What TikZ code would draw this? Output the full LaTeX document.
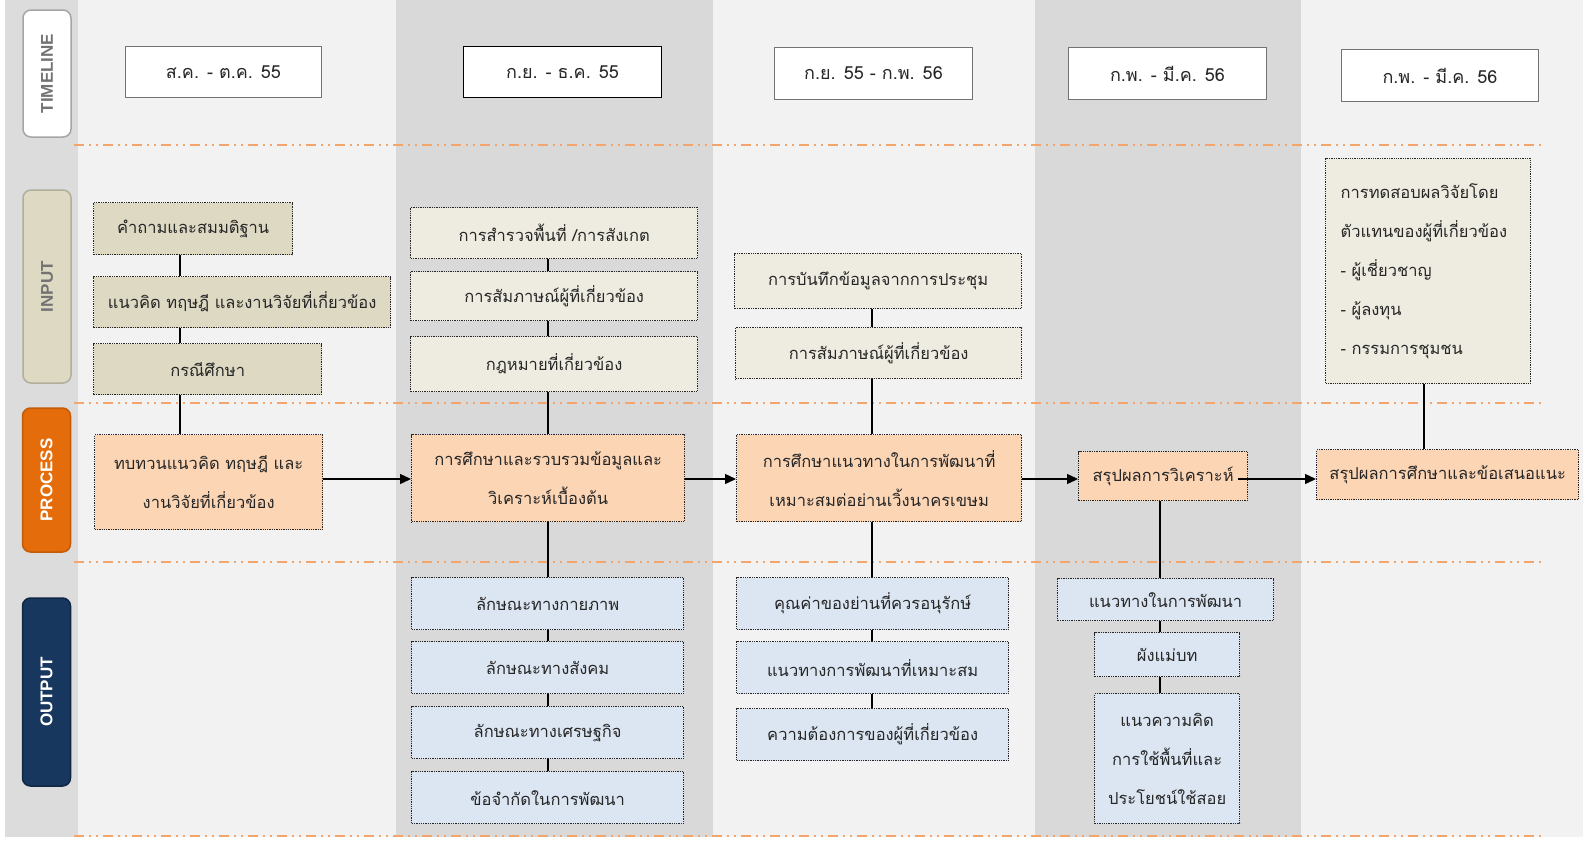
\documentclass[tikz,border=0pt]{standalone}
\usepackage{fontspec}
\setmainfont{Liberation Sans}
\newfontfamily\thai[Script=Thai]{Loma}
\usetikzlibrary{arrows.meta}

\definecolor{paneLight}{HTML}{F2F2F2}
\definecolor{paneDark}{HTML}{D9D9D9}
\definecolor{stripGray}{HTML}{DCDCDC}
\definecolor{inputDark}{HTML}{DDD9C3}
\definecolor{inputLight}{HTML}{EEECE1}
\definecolor{procFill}{HTML}{FCD5B5}
\definecolor{outFill}{HTML}{DCE6F2}
\definecolor{sepLine}{HTML}{F3A66C}
\definecolor{procLane}{HTML}{E46C0A}
\definecolor{outLane}{HTML}{17375E}
\definecolor{inkText}{HTML}{262626}

\begin{document}
\begin{tikzpicture}[x=1pt,y=-1pt,
  lane/.style={rounded corners=8pt, line width=1.5pt, rotate=90,
    minimum height=48, inner sep=0,
    font=\bfseries\fontsize{17}{20}\selectfont},
  timebox/.style={anchor=north west, draw=black!55, fill=white, line width=1pt,
    inner sep=0, text=inkText, font=\thai\fontsize{18}{22}\selectfont},
  box/.style={anchor=north west, draw=black!85, line width=1.3pt, densely dotted,
    inner sep=0, align=center, text=inkText,
    font=\thai\fontsize{16.5}{39}\selectfont},
  inA/.style={box, fill=inputDark},
  inB/.style={box, fill=inputLight},
  proc/.style={box, fill=procFill},
  outp/.style={box, fill=outFill},
  link/.style={line width=1.4pt, draw=black},
  flow/.style={link, -{Triangle[length=11pt,width=10pt]}},
  sep/.style={draw=sepLine, line width=1.6pt,
    dash pattern=on 10pt off 5pt on 2pt off 5pt on 2pt off 5pt}
]
\useasboundingbox (0,0) rectangle (1583,841);
\fill[white] (0,0) rectangle (1583,841);

% column bands
\fill[paneLight] (5,0) rectangle (1583,837);
\fill[stripGray] (5,0) rectangle (78,837);
\fill[paneDark] (396,0) rectangle (713,837);
\fill[paneDark] (1035,0) rectangle (1301,837);

% row separators
\draw[sep] (74,145) -- (1542,145);
\draw[sep] (74,403) -- (1545,403);
\draw[sep] (74,562) -- (1545,562);
\draw[sep] (74,836) -- (1545,836);

% lane labels
\node[lane, draw=black!35, fill=white, text=black!55, minimum width=127] (lTime) at (47,73.5) {TIMELINE};
\node[lane, draw=inputDark!80!black, fill=inputDark, text=black!55, minimum width=193] (lIn) at (47,286.5) {INPUT};
\node[lane, draw=procLane!85!black, fill=procLane, text=white, minimum width=144] (lProc) at (46.5,480) {PROCESS};
\node[lane, draw=outLane!70!black, fill=outLane, text=white, minimum width=188] (lOut) at (46.5,692) {OUTPUT};

% timeline
\node[timebox, minimum width=196, minimum height=51] (t1) at (125,46) {ส.ค. - ต.ค. 55};
\node[timebox, draw=black, minimum width=198, minimum height=51] (t2) at (463,46) {ก.ย. - ธ.ค. 55};
\node[timebox, minimum width=198, minimum height=52] (t3) at (774,47) {ก.ย. 55 - ก.พ. 56};
\node[timebox, minimum width=198, minimum height=52] (t4) at (1068,47) {ก.พ. - มี.ค. 56};
\node[timebox, minimum width=197, minimum height=52] (t5) at (1341,49) {ก.พ. - มี.ค. 56};

% inputs
\node[inA, minimum width=199, minimum height=52] (i11) at (93,202) {คำถามและสมมติฐาน};
\node[inA, minimum width=297, minimum height=51] (i12) at (93,276) {แนวคิด ทฤษฎี และงานวิจัยที่เกี่ยวข้อง};
\node[inA, minimum width=228, minimum height=51] (i13) at (93,343) {กรณีศึกษา};
\node[inB, minimum width=287, minimum height=51] (i21) at (410,207) {การสำรวจพื้นที่ /การสังเกต};
\node[inB, minimum width=287, minimum height=49] (i22) at (410,271) {การสัมภาษณ์ผู้ที่เกี่ยวข้อง};
\node[inB, minimum width=287, minimum height=55] (i23) at (410,336) {กฎหมายที่เกี่ยวข้อง};
\node[inB, minimum width=287, minimum height=55] (i31) at (734,253) {การบันทึกข้อมูลจากการประชุม};
\node[inB, minimum width=286, minimum height=51] (i32) at (735,327) {การสัมภาษณ์ผู้ที่เกี่ยวข้อง};
\node[inB, align=left, inner xsep=15, text width=175, minimum height=225] (i51) at (1325,158)
  {การทดสอบผลวิจัยโดย\\ตัวแทนของผู้ที่เกี่ยวข้อง\\- ผู้เชี่ยวชาญ\\- ผู้ลงทุน\\- กรรมการชุมชน};

% process
\node[proc, minimum width=228, minimum height=95] (p1) at (94,434) {ทบทวนแนวคิด ทฤษฎี และ\\งานวิจัยที่เกี่ยวข้อง};
\node[proc, minimum width=273, minimum height=87] (p2) at (411,434) {การศึกษาและรวบรวมข้อมูลและ\\วิเคราะห์เบื้องต้น};
\node[proc, minimum width=285, minimum height=87] (p3) at (736,434) {การศึกษาแนวทางในการพัฒนาที่\\เหมาะสมต่อย่านเวิ้งนาครเขษม};
\node[proc, minimum width=169, minimum height=49] (p4) at (1078,451) {สรุปผลการวิเคราะห์};
\node[proc, minimum width=262, minimum height=50] (p5) at (1316,449) {สรุปผลการศึกษาและข้อเสนอแนะ};

% outputs
\node[outp, minimum width=272, minimum height=52] (o21) at (411,577) {ลักษณะทางกายภาพ};
\node[outp, minimum width=272, minimum height=52] (o22) at (411,641) {ลักษณะทางสังคม};
\node[outp, minimum width=272, minimum height=52] (o23) at (411,706) {ลักษณะทางเศรษฐกิจ};
\node[outp, minimum width=272, minimum height=52] (o24) at (411,771) {ข้อจำกัดในการพัฒนา};
\node[outp, minimum width=272, minimum height=52] (o31) at (736,577) {คุณค่าของย่านที่ควรอนุรักษ์};
\node[outp, minimum width=272, minimum height=52] (o32) at (736,641) {แนวทางการพัฒนาที่เหมาะสม};
\node[outp, minimum width=272, minimum height=52] (o33) at (736,708) {ความต้องการของผู้ที่เกี่ยวข้อง};
\node[outp, minimum width=216, minimum height=42] (o41) at (1057,578) {แนวทางในการพัฒนา};
\node[outp, minimum width=145, minimum height=44] (o42) at (1094,632) {ผังแม่บท};
\node[outp, minimum width=145, minimum height=130] (o43) at (1094,693) {แนวความคิด\\การใช้พื้นที่และ\\ประโยชน์ใช้สอย};

% trunk positions of the vertical links
\coordinate (c1) at (180,0);
\coordinate (c2) at (548,0);
\coordinate (c3) at (872,0);
\coordinate (c4) at (1160,0);
\coordinate (c5) at (1424,0);
\coordinate (ay) at (0,479);

% column 1
\draw[link] (i11.south -| c1) -- (i12.north -| c1);
\draw[link] (i12.south -| c1) -- (i13.north -| c1);
\draw[link] (i13.south -| c1) -- (p1.north -| c1);
% column 2
\draw[link] (i21.south -| c2) -- (i22.north -| c2);
\draw[link] (i22.south -| c2) -- (i23.north -| c2);
\draw[link] (i23.south -| c2) -- (p2.north -| c2);
\draw[link] (p2.south -| c2) -- (o21.north -| c2);
\draw[link] (o21.south -| c2) -- (o22.north -| c2);
\draw[link] (o22.south -| c2) -- (o23.north -| c2);
\draw[link] (o23.south -| c2) -- (o24.north -| c2);
% column 3
\draw[link] (i31.south -| c3) -- (i32.north -| c3);
\draw[link] (i32.south -| c3) -- (p3.north -| c3);
\draw[link] (p3.south -| c3) -- (o31.north -| c3);
\draw[link] (o31.south -| c3) -- (o32.north -| c3);
\draw[link] (o32.south -| c3) -- (o33.north -| c3);
% column 4
\draw[link] (p4.south -| c4) -- (o41.north -| c4);
\draw[link] (o41.south -| c4) -- (o42.north -| c4);
\draw[link] (o42.south -| c4) -- (o43.north -| c4);
% column 5
\draw[link] (i51.south -| c5) -- (p5.north -| c5);

% process flow
\draw[flow] (p1.east |- ay) -- (p2.west |- ay);
\draw[flow] (p2.east |- ay) -- (p3.west |- ay);
\draw[flow] (p3.east |- ay) -- (p4.west |- ay);
\draw[flow] ([xshift=-10pt]p4.east |- ay) -- (p5.west |- ay);
\end{tikzpicture}
\end{document}
